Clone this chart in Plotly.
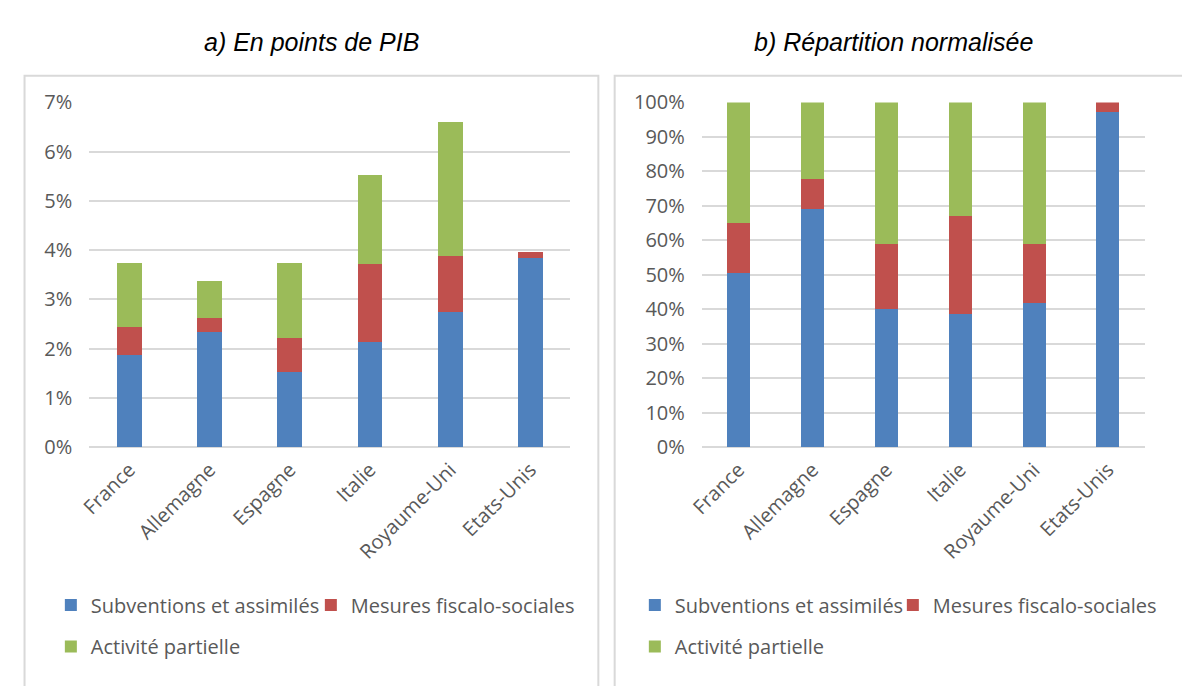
import plotly.graph_objects as go

W, H = 1190, 686
OFF = 8  # the page body margin shifts the figure by 8px

pays = ["France", "Allemagne", "Espagne", "Italie", "Royaume-Uni", "Etats-Unis"]
series = ["Subventions et assimilés", "Mesures fiscalo-sociales", "Activité partielle"]
couleurs = ["#4f81bd", "#c0504d", "#9bbb59"]

# a) en points de PIB (%)
pib_subv = [1.88, 2.34, 1.52, 2.14, 2.75, 3.85]
pib_fisc = [0.56, 0.29, 0.70, 1.58, 1.14, 0.12]
pib_ap = [1.30, 0.75, 1.52, 1.81, 2.71, 0.0]

# b) répartition normalisée (%)
rep_subv = [50.4, 69.1, 40.0, 38.6, 41.8, 97.2]
rep_fisc = [14.6, 8.7, 19.0, 28.4, 17.2, 2.8]
rep_ap = [35.0, 22.2, 41.0, 33.0, 41.0, 0.0]

pib_ticks = [0, 1, 2, 3, 4, 5, 6, 7]
rep_ticks = [0, 10, 20, 30, 40, 50, 60, 70, 80, 90, 100]


def px_x(v):
    return (v - OFF) / W


def px_y(v):
    return (H - (v - OFF)) / H


TICK_FONT = dict(family="Open Sans", size=20, color="#595959")
GRID = "#d9d9d9"

fig = go.Figure()

# --- bars -------------------------------------------------------------------
legends_a = ["legend", "legend", "legend2"]
legends_b = ["legend3", "legend3", "legend4"]
for name, col, vals, lg in zip(series, couleurs, [pib_subv, pib_fisc, pib_ap], legends_a):
    fig.add_trace(go.Bar(x=pays, y=vals, name=name, marker_color=col,
                         marker_line_width=0, xaxis="x", yaxis="y", legend=lg))
for name, col, vals, lg in zip(series, couleurs, [rep_subv, rep_fisc, rep_ap], legends_b):
    fig.add_trace(go.Bar(x=pays, y=vals, name=name, marker_color=col,
                         marker_line_width=0, xaxis="x2", yaxis="y2", legend=lg))
# last entry of each first legend row: wide enough so its text is not clipped
fig.data[1].legendwidth = 260
fig.data[4].legendwidth = 260

# --- axes -------------------------------------------------------------------
y_dom = [px_y(450.7), px_y(91.7)]
xax = dict(type="category", range=[-0.5, 5.5], tickangle=-45, tickfont=TICK_FONT,
           showgrid=False, showline=False, ticks="", zeroline=False, ticklabelstandoff=6)
yax = dict(showline=False, ticks="", gridcolor=GRID, gridwidth=2, zeroline=True,
           zerolinecolor=GRID, zerolinewidth=2, tickfont=TICK_FONT, tickmode="array",
           ticklabelstandoff=16)

fig.update_layout(
    xaxis=dict(xax, domain=[px_x(77), px_x(578)], anchor="y"),
    yaxis=dict(yax, domain=y_dom, range=[0, 7], tickvals=pib_ticks,
               ticktext=[f"{v}%" for v in pib_ticks], anchor="x"),
    xaxis2=dict(xax, domain=[px_x(714.7), px_x(1176)], anchor="y2"),
    yaxis2=dict(yax, domain=y_dom, range=[0, 100], tickvals=rep_ticks,
                ticktext=[f"{v}%" for v in rep_ticks], anchor="x2"),
)

# --- legends ----------------------------------------------------------------
LEG = dict(orientation="h", xanchor="left", yanchor="middle", font=TICK_FONT,
           bgcolor="rgba(0,0,0,0)", borderwidth=0, traceorder="normal")
fig.update_layout(
    legend=dict(LEG, x=px_x(37), y=px_y(615), entrywidth=215),
    legend2=dict(LEG, x=px_x(37), y=px_y(658)),
    legend3=dict(LEG, x=px_x(645), y=px_y(615), entrywidth=213),
    legend4=dict(LEG, x=px_x(645), y=px_y(658)),
)

# --- titles & panel frames --------------------------------------------------
TITLE_FONT = dict(family="Liberation Sans", size=25, color="#000000", style="italic")
for txt, cx in [("a) En points de PIB", 308), ("b) Répartition normalisée", 914)]:
    fig.add_annotation(text=txt, x=px_x(cx), y=px_y(28.5), xref="paper", yref="paper",
                       showarrow=False, xanchor="center", yanchor="middle", font=TITLE_FONT)

for x0, x1 in [(9.6, 607), (624, 1220)]:
    fig.add_shape(type="rect", xref="paper", yref="paper", x0=px_x(x0), x1=px_x(x1),
                  y0=px_y(720), y1=px_y(64), line=dict(color=GRID, width=2),
                  fillcolor="rgba(0,0,0,0)", layer="below")

fig.update_layout(
    barmode="stack",
    bargap=0.69,
    width=W,
    height=H,
    margin=dict(l=0, r=0, t=0, b=0),
    paper_bgcolor="white",
    plot_bgcolor="white",
    font=dict(family="Open Sans", color="#595959"),
)

fig.write_html("out.html")
